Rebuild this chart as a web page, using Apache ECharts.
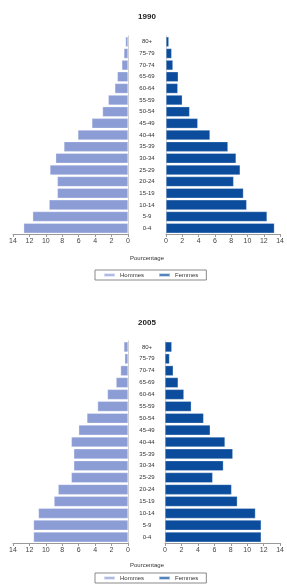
<!DOCTYPE html>
<html>
<head>
<meta charset="utf-8">
<script src="https://cdn.jsdelivr.net/npm/echarts@6/dist/echarts.min.js"></script>
<style>html,body{margin:0;padding:0;background:#fff}#c{width:287px;height:584px}</style>
</head>
<body>
<div id="c"></div>
<script>
// Age groups, bottom (0-4) to top (80+)
const ages = ['0-4','5-9','10-14','15-19','20-24','25-29','30-34','35-39','40-44','45-49','50-54','55-59','60-64','65-69','70-74','75-79','80+'];
const xTicks = [0,2,4,6,8,10,12,14];
const titles = ['1990','2005'];
const seriesNames = ['Hommes','Femmes'];
const axisName = 'Pourcentage';

const hommes1990 = [12.7, 11.6, 9.6, 8.6, 8.6, 9.5, 8.8, 7.8, 6.1, 4.4, 3.1, 2.4, 1.6, 1.3, 0.75, 0.5, 0.3];
const femmes1990 = [13.3, 12.4, 9.9, 9.5, 8.3, 9.1, 8.6, 7.6, 5.4, 3.9, 2.9, 2.0, 1.45, 1.5, 0.85, 0.7, 0.35];
const hommes2005 = [11.5, 11.5, 10.9, 9.0, 8.5, 6.9, 6.6, 6.6, 6.9, 6.0, 5.0, 3.7, 2.5, 1.45, 0.9, 0.4, 0.5];
const femmes2005 = [11.7, 11.7, 11.0, 8.8, 8.1, 5.8, 7.1, 8.25, 7.3, 5.5, 4.7, 3.2, 2.3, 1.6, 1.0, 0.55, 0.83];

const FONT = 'Liberation Sans, Arial, sans-serif';
const LIGHT = '#8c9dd6';
const DARK = '#0b4d9c';

const chart = echarts.init(document.getElementById('c'), null, {renderer:'canvas'});

const grids = [
  {left:13, width:115, top:36, height:198},
  {left:166, width:119, top:36, height:198},
  {left:13, width:115, top:341, height:202},
  {left:165, width:121, top:341, height:202}
];

function xAxis(i, inverse){
  return {
    type:'value', gridIndex:i, min:xTicks[0], max:xTicks[xTicks.length-1], interval:2, inverse:inverse,
    axisLine:{show:true, lineStyle:{color:'#9a9a9a', width:1}},
    axisTick:{show:true, length:3, lineStyle:{color:'#9a9a9a'}},
    axisLabel:{fontSize:7, color:'#444', margin:4, fontFamily:FONT},
    splitLine:{show:false}
  };
}
function yAxis(i, side, labels, margin){
  return {
    type:'category', gridIndex:i, data:ages, position:side,
    axisLine:{show:true, lineStyle:{color:'#cfcfcf', width:1}},
    axisTick:{show:false},
    axisLabel:{show:labels, fontSize:6, color:'#333', align:'center', margin:margin, fontFamily:FONT}
  };
}
function bar(name, data, idx, color){
  return {
    name:name, type:'bar', xAxisIndex:idx, yAxisIndex:idx, data:data,
    barCategoryGap:'14%', silent:true,
    itemStyle:{color:color, borderColor:'rgba(255,255,255,0.6)', borderWidth:0.5},
    animation:false
  };
}
function legend(top){
  return {
    data:seriesNames, left:95, top:top, width:105,
    icon:'rect', itemWidth:11, itemHeight:3, itemGap:14,
    borderColor:'#8a8a8a', borderWidth:1, padding:[2,8,2,8],
    textStyle:{fontSize:6, color:'#333', fontFamily:FONT}
  };
}

const option = {
  backgroundColor:'#fff',
  animation:false,
  grid:grids,
  xAxis:[xAxis(0,true), xAxis(1,false), xAxis(2,true), xAxis(3,false)],
  yAxis:[yAxis(0,'right',false,0), yAxis(1,'left',true,19), yAxis(2,'right',false,0), yAxis(3,'left',true,18)],
  legend:[legend(270), legend(573)],
  series:[
    bar(seriesNames[0], hommes1990, 0, LIGHT),
    bar(seriesNames[1], femmes1990, 1, DARK),
    bar(seriesNames[0], hommes2005, 2, LIGHT),
    bar(seriesNames[1], femmes2005, 3, DARK)
  ],
  graphic:[
    {type:'text', x:147, y:17, style:{text:titles[0], textAlign:'center', textVerticalAlign:'middle', font:'bold 8px '+FONT, fill:'#222'}},
    {type:'text', x:147, y:258, style:{text:axisName, textAlign:'center', textVerticalAlign:'middle', font:'6px '+FONT, fill:'#333'}},
    {type:'text', x:147, y:323, style:{text:titles[1], textAlign:'center', textVerticalAlign:'middle', font:'bold 8px '+FONT, fill:'#222'}},
    {type:'text', x:147, y:565, style:{text:axisName, textAlign:'center', textVerticalAlign:'middle', font:'6px '+FONT, fill:'#333'}}
  ]
};
chart.setOption(option);
</script>
</body>
</html>
